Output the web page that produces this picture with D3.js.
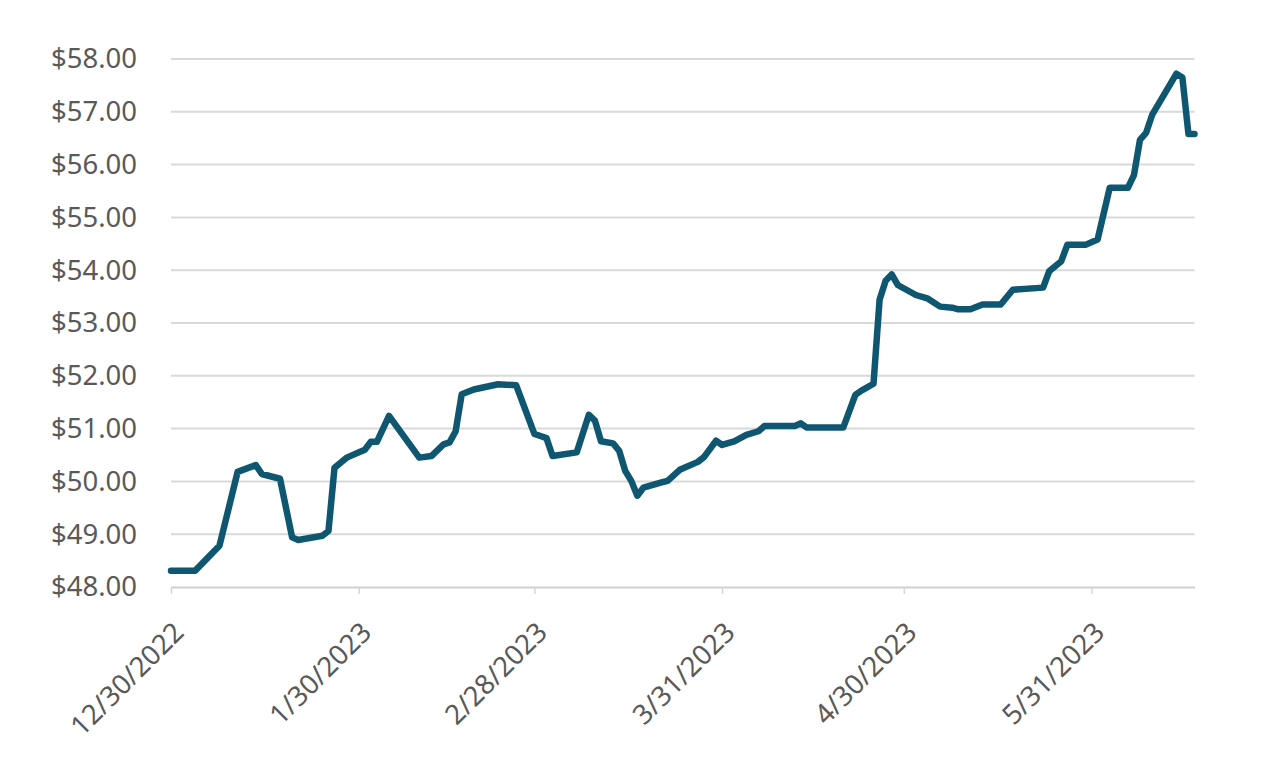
<!DOCTYPE html>
<html>
<head>
<meta charset="utf-8">
<script src="https://cdn.jsdelivr.net/npm/d3@7"></script>
<style>
    body { margin: 0; background: #fff; }
    svg { display: block; }
    .axis text { font-family: "Noto Sans", "Open Sans", sans-serif; fill: #595959; }
</style>
</head>
<body>
<div id="main"></div>
<script>
// price series, dates as m/d/yyyy
var dates = [
    "12/30/2022", "1/3/2023", "1/7/2023", "1/10/2023", "1/13/2023", "1/14/2023",
    "1/17/2023", "1/19/2023", "1/20/2023", "1/24/2023", "1/25/2023", "1/26/2023",
    "1/28/2023", "1/31/2023", "2/1/2023", "2/2/2023", "2/4/2023", "2/9/2023",
    "2/11/2023", "2/13/2023", "2/14/2023", "2/15/2023", "2/16/2023", "2/18/2023",
    "2/22/2023", "2/25/2023", "2/28/2023", "3/1/2023", "3/2/2023", "3/3/2023",
    "3/7/2023", "3/9/2023", "3/10/2023", "3/11/2023", "3/13/2023", "3/14/2023",
    "3/15/2023", "3/16/2023", "3/17/2023", "3/18/2023", "3/21/2023", "3/22/2023",
    "3/24/2023", "3/27/2023", "3/28/2023", "3/30/2023", "3/31/2023", "4/2/2023",
    "4/4/2023", "4/6/2023", "4/7/2023", "4/12/2023", "4/13/2023", "4/14/2023",
    "4/20/2023", "4/22/2023", "4/23/2023", "4/25/2023", "4/26/2023", "4/27/2023",
    "4/28/2023", "4/29/2023", "5/2/2023", "5/4/2023", "5/6/2023", "5/8/2023",
    "5/9/2023", "5/11/2023", "5/13/2023", "5/16/2023", "5/18/2023", "5/23/2023",
    "5/24/2023", "5/26/2023", "5/27/2023", "5/30/2023", "6/1/2023", "6/3/2023",
    "6/6/2023", "6/7/2023", "6/8/2023", "6/9/2023", "6/10/2023", "6/14/2023",
    "6/15/2023", "6/16/2023", "6/17/2023"
];
var prices = [
    48.31, 48.31, 48.78, 50.18, 50.31, 50.14,
    50.05, 48.94, 48.89, 48.97, 49.06, 50.26,
    50.45, 50.60, 50.75, 50.75, 51.24, 50.45,
    50.48, 50.70, 50.74, 50.95, 51.65, 51.74,
    51.84, 51.82, 50.90, 50.86, 50.82, 50.48,
    50.55, 51.26, 51.15, 50.76, 50.72, 50.58,
    50.20, 50.01, 49.73, 49.88, 49.98, 50.01,
    50.22, 50.37, 50.46, 50.77, 50.69, 50.76,
    50.88, 50.95, 51.05, 51.05, 51.10, 51.02,
    51.02, 51.64, 51.72, 51.85, 53.44, 53.80,
    53.92, 53.72, 53.53, 53.46, 53.31, 53.29,
    53.26, 53.26, 53.35, 53.35, 53.63, 53.67,
    53.98, 54.17, 54.48, 54.48, 54.58, 55.56,
    55.56, 55.80, 56.47, 56.60, 56.94, 57.72,
    57.65, 56.58, 56.58
];

var xTickLabels = ["12/30/2022", "1/30/2023", "2/28/2023", "3/31/2023", "4/30/2023", "5/31/2023"];
var yTickValues = [48, 49, 50, 51, 52, 53, 54, 55, 56, 57, 58];
var xDomain = ["12/30/2022", "6/17/2023"];

var parse = d3.timeParse("%m/%d/%Y");

var width = 1280,
    height = 768,
    margin = {top: 59, right: 85.5, bottom: 180, left: 171};

var data = dates.map(function(d, i) {
    return {date: parse(d), value: prices[i]};
});

var x = d3.scaleTime()
    .domain(xDomain.map(parse))
    .range([margin.left, width - margin.right]);

var y = d3.scaleLinear()
    .domain([48, 58])
    .range([height - margin.bottom - 1, margin.top]);

var svg = d3.select("#main")
    .append("svg")
    .attr("width", width)
    .attr("height", height);

// horizontal gridlines
svg.append("g")
    .selectAll("line.grid")
    .data(yTickValues.slice(1))
    .enter()
    .append("line")
    .attr("class", "grid")
    .attr("x1", margin.left)
    .attr("x2", width - margin.right)
    .attr("y1", function(d) { return y(d); })
    .attr("y2", function(d) { return y(d); })
    .attr("stroke", "#d9d9d9")
    .attr("stroke-width", 2);

// y axis labels
var yAxis = d3.axisLeft(y)
    .tickValues(yTickValues)
    .tickSize(0)
    .tickPadding(34)
    .tickFormat(function(d) { return "$" + d3.format(".2f")(d); });

svg.append("g")
    .attr("class", "axis")
    .attr("transform", "translate(" + margin.left + ",0)")
    .call(yAxis)
    .call(function(g) { g.select(".domain").remove(); })
    .selectAll("text")
    .style("font-size", "27.5px");

// x axis
var xAxis = d3.axisBottom(x)
    .tickValues(xTickLabels.map(parse))
    .tickSize(7)
    .tickSizeOuter(0)
    .tickFormat(d3.timeFormat("%-m/%-d/%Y"));

var gx = svg.append("g")
    .attr("class", "axis")
    .attr("transform", "translate(0," + y(48) + ")")
    .call(xAxis);

gx.select(".domain")
    .attr("stroke", "#d0d0d0")
    .attr("stroke-width", 2);

gx.selectAll(".tick line")
    .attr("stroke", "#d6d6d6")
    .attr("stroke-width", 1.5);

gx.selectAll("text")
    .style("font-size", "27.5px")
    .attr("text-anchor", "end")
    .attr("dy", null)
    .attr("y", 0)
    .attr("x", 0)
    .attr("transform", "translate(14,47) rotate(-45)");

// price line
var line = d3.line()
    .x(function(d) { return x(d.date); })
    .y(function(d) { return y(d.value); })
    .curve(d3.curveLinear);

svg.append("path")
    .datum(data)
    .attr("d", line)
    .attr("fill", "none")
    .attr("stroke", "#0f5671")
    .attr("stroke-width", 6.5)
    .attr("stroke-linejoin", "round")
    .attr("stroke-linecap", "round");
</script>
</body>
</html>
